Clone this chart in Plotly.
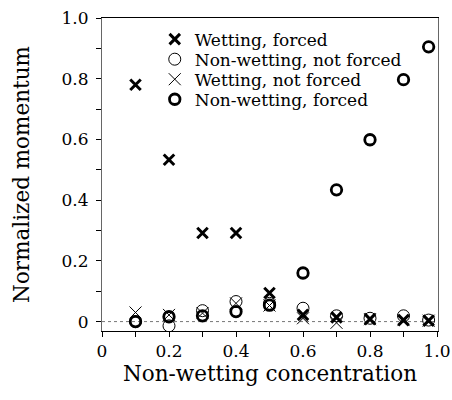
import plotly.graph_objects as go

x_vals = [0.1, 0.2, 0.3, 0.4, 0.5, 0.6, 0.7, 0.8, 0.9, 0.975]

wetting_forced = [0.78, 0.533, 0.292, 0.292, 0.094, 0.022, 0.014, 0.008, 0.005, 0.003]
nonwetting_not_forced = [0.0, -0.014, 0.036, 0.066, 0.06, 0.044, 0.019, 0.011, 0.019, 0.005]
wetting_not_forced = [0.03, 0.022, 0.028, 0.06, 0.053, 0.011, -0.004, 0.008, 0.005, 0.003]
nonwetting_forced = [0.0, 0.016, 0.019, 0.033, 0.054, 0.16, 0.434, 0.599, 0.797, 0.905]

x_tickvals = [0, 0.2, 0.4, 0.6, 0.8, 1.0]
x_ticktext = ["0", "0.2", "0.4", "0.6", "0.8", "1.0"]
y_tickvals = [0, 0.2, 0.4, 0.6, 0.8, 1.0]
y_ticktext = ["0", "0.2", "0.4", "0.6", "0.8", "1.0"]

FONT = "DejaVu Serif"

fig = go.Figure()

# zero reference line
fig.add_trace(go.Scatter(x=[0, 1.003], y=[0, 0], mode="lines",
                         line=dict(color="#777", width=1, dash="dot"),
                         showlegend=False, hoverinfo="skip"))

fig.add_trace(go.Scatter(x=x_vals, y=wetting_forced, mode="markers", name="Wetting, forced",
                         legend="legend",
                         marker=dict(symbol="x-thin-open", size=10.5, color="black",
                                     line=dict(width=3, color="black"))))
fig.add_trace(go.Scatter(x=x_vals, y=nonwetting_not_forced, mode="markers", name="Non-wetting, not forced",
                         legend="legend2",
                         marker=dict(symbol="circle-open", size=12, color="black",
                                     line=dict(width=1, color="black"))))
fig.add_trace(go.Scatter(x=x_vals, y=wetting_not_forced, mode="markers", name="Wetting, not forced",
                         legend="legend3",
                         marker=dict(symbol="x-thin-open", size=12, color="black",
                                     line=dict(width=1, color="black"))))
fig.add_trace(go.Scatter(x=x_vals, y=nonwetting_forced, mode="markers", name="Non-wetting, forced",
                         legend="legend4",
                         marker=dict(symbol="circle-open", size=10.5, color="black",
                                     line=dict(width=2.8, color="black"))))

def leg(yc):
    return dict(x=0.157, y=yc, xanchor="left", yanchor="middle",
                bgcolor="rgba(0,0,0,0)", font=dict(family=FONT, size=17),
                itemwidth=30, itemsizing="trace")

fig.update_layout(
    width=452, height=400,
    margin=dict(l=102, r=14, t=18, b=69, autoexpand=False),
    paper_bgcolor="white", plot_bgcolor="white",
    font=dict(family=FONT, size=17, color="black"),
    legend=leg(0.931), legend2=leg(0.867), legend3=leg(0.803), legend4=leg(0.739),
    xaxis=dict(range=[0, 1.003], showgrid=False, zeroline=False, automargin=False,
               showline=True, linecolor="black", linewidth=1, mirror=True,
               ticks="outside", ticklen=5, tickcolor="black",
               tickvals=x_tickvals, ticktext=x_ticktext,
               tickfont=dict(family=FONT, size=17),
               minor=dict(dtick=0.1, ticks="outside", ticklen=5, tickcolor="black"),
               title=dict(text="Non-wetting concentration", font=dict(family=FONT, size=21.5), standoff=0)),
    yaxis=dict(range=[-0.031, 1.0], showgrid=False, zeroline=False, automargin=False,
               showline=True, linecolor="#666", linewidth=1, mirror=True,
               ticks="outside", ticklen=5, tickcolor="black",
               tickvals=y_tickvals, ticktext=y_ticktext, ticklabelstandoff=4,
               tickfont=dict(family=FONT, size=17),
               minor=dict(dtick=0.1, ticks="outside", ticklen=5, tickcolor="black"),
               title=dict(text="Normalized momentum", font=dict(family=FONT, size=21.5), standoff=26)),
)

fig.write_html("out.html")
